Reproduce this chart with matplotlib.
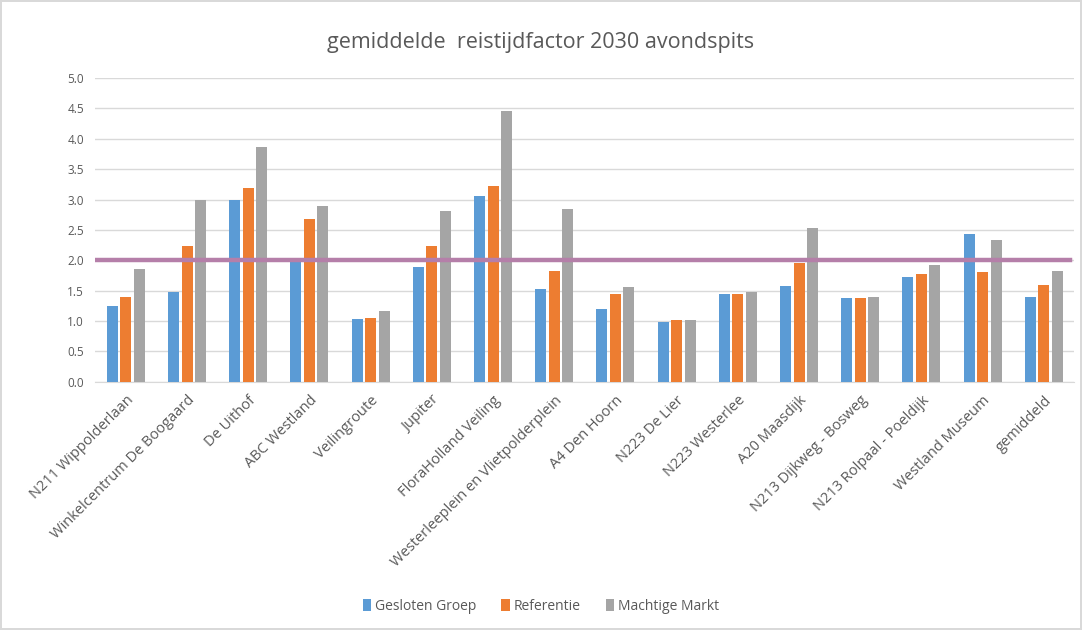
import matplotlib.pyplot as plt
import numpy as np

plt.rcParams['font.family'] = ['Open Sans', 'DejaVu Sans']

locaties = ["N211 Wippolderlaan", "Winkelcentrum De Boogaard", "De Uithof", "ABC Westland",
            "Veilingroute", "Jupiter", "FloraHolland Veiling", "Westerleeplein en Vlietpolderplein",
            "A4 Den Hoorn", "N223 De Lier", "N223 Westerlee", "A20 Maasdijk",
            "N213 Dijkweg - Bosweg", "N213 Rolpaal - Poeldijk", "Westland Museum", "gemiddeld"]
gesloten_groep = [1.25, 1.48, 3.00, 1.97, 1.03, 1.89, 3.06, 1.53, 1.20, 0.99, 1.45, 1.57, 1.38, 1.72, 2.44, 1.40]
referentie = [1.40, 2.24, 3.19, 2.68, 1.05, 2.24, 3.23, 1.83, 1.44, 1.01, 1.45, 1.96, 1.38, 1.77, 1.81, 1.60]
machtige_markt = [1.86, 3.00, 3.86, 2.89, 1.16, 2.81, 4.46, 2.84, 1.56, 1.01, 1.48, 2.54, 1.40, 1.92, 2.33, 1.83]
drempel = 2.0

fig = plt.figure(figsize=(10.82, 6.3), dpi=100)
fig.patch.set_edgecolor("#D9D9D9")
fig.patch.set_linewidth(1.5)
ax = fig.add_axes([0.088, 0.394, 0.905, 0.482])

x = np.arange(len(locaties))
w = 0.18
d = 0.22
ax.bar(x - d, gesloten_groep, w, color="#5B9BD5", label="Gesloten Groep", zorder=3)
ax.bar(x, referentie, w, color="#ED7D31", label="Referentie", zorder=3)
ax.bar(x + d, machtige_markt, w, color="#A5A5A5", label="Machtige Markt", zorder=3)
ax.axhline(drempel, color="#B57FA9", linewidth=3.2, xmin=0, xmax=0.995, zorder=4)

ax.set_xlim(-0.5, len(locaties) - 0.5)
ax.set_ylim(0, 5)
ax.set_yticks(np.arange(0, 5.01, 0.5))
ax.set_yticklabels([f"{v:.1f}" for v in np.arange(0, 5.01, 0.5)], color="#595959", fontsize=8.5)
ax.set_xticks(x)
ax.set_xticklabels(locaties, rotation=45, ha="right", rotation_mode="anchor",
                   color="#595959", fontsize=10.5)
ax.tick_params(axis="y", length=0, pad=8)
ax.tick_params(axis="x", length=0, pad=8)
ax.grid(axis="y", color="#D9D9D9", linewidth=1, zorder=0)
for s in ["top", "right", "left"]:
    ax.spines[s].set_visible(False)
ax.spines["bottom"].set_color("#D9D9D9")

fig.text(0.5, 0.933, "gemiddelde  reistijdfactor 2030 avondspits", ha="center", va="center",
         fontsize=15.5, color="#595959")
fig.legend(loc="center", bbox_to_anchor=(0.5, 0.038), ncol=3, frameon=False, fontsize=10,
           handlelength=0.6, handleheight=0.9, handletextpad=0.3, columnspacing=1.8,
           labelcolor="#595959")

fig.savefig("out.png", dpi=100)
